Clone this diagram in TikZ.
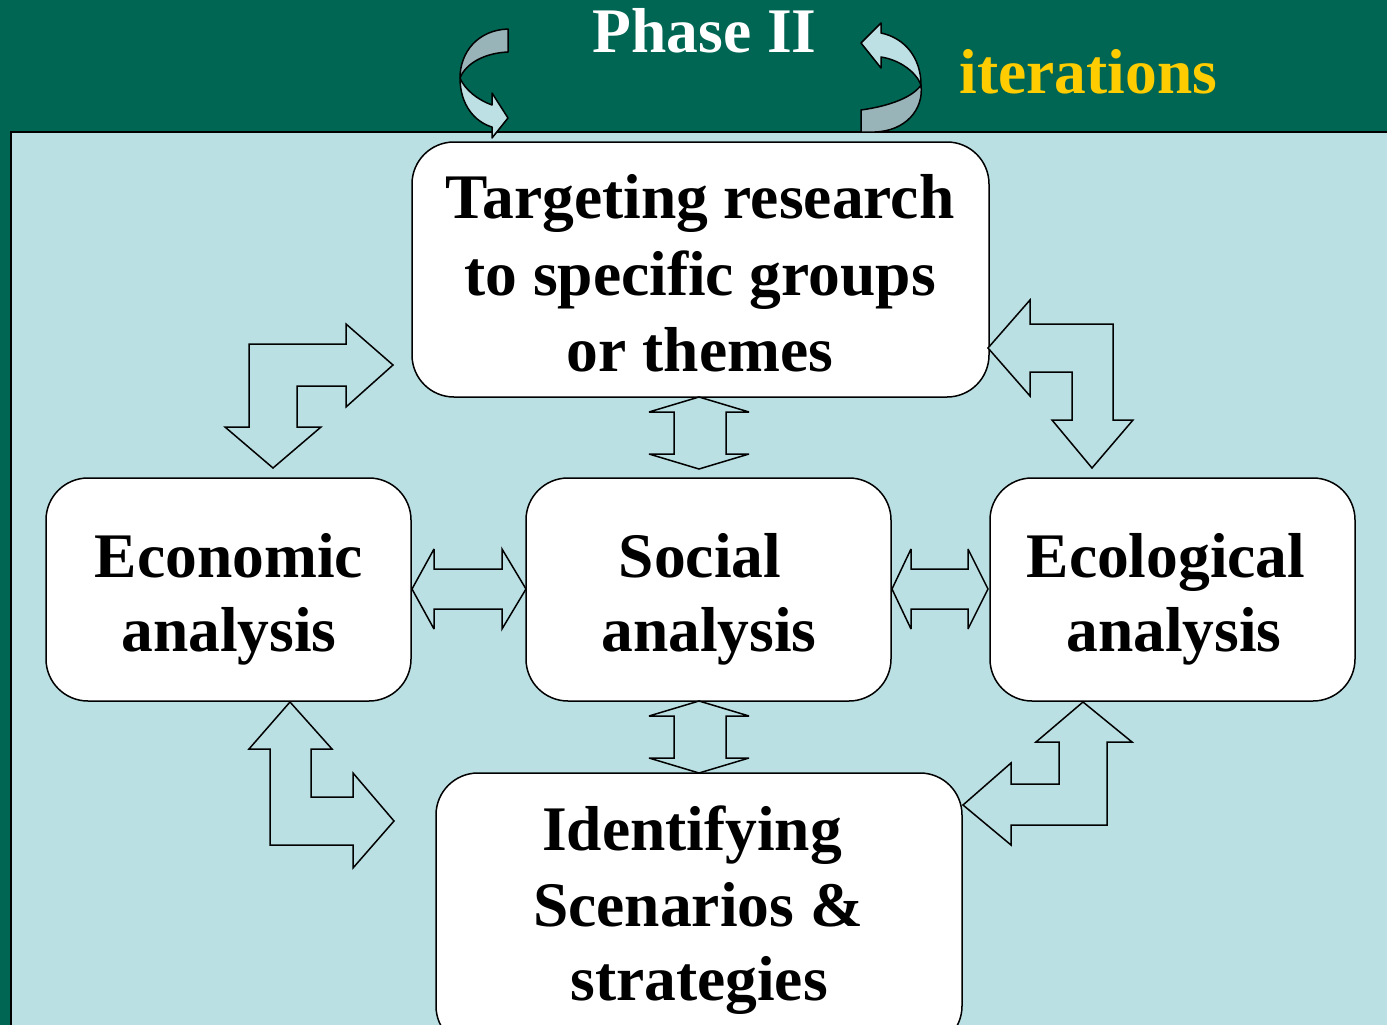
\documentclass[tikz,border=0pt]{standalone}
\usepackage{fontspec}
\setmainfont{Liberation Serif}
\definecolor{bandgreen}{RGB}{0,102,84}
\definecolor{panelblue}{RGB}{187,224,227}
\definecolor{titleyellow}{RGB}{255,204,0}
\definecolor{curvedark}{RGB}{152,180,184}
\definecolor{curvelight}{RGB}{188,224,227}
\begin{document}
\begin{tikzpicture}[x=1pt,y=-1pt,
  box/.style={draw=black, line width=1.5pt, fill=white, rounded corners=42pt, inner sep=0pt},
  txt/.style={font=\fontsize{63.5}{77}\selectfont\bfseries, inner sep=0pt, anchor=base},
  blockarrow/.style={draw=black, line width=1.5pt, fill=panelblue, line join=miter, miter limit=4},
  curvearrow/.style={draw=black, line width=1.5pt, line join=round}]
\useasboundingbox (0,0) rectangle (1387,1025);
\clip (0,0) rectangle (1387,1025);
% background
\fill[bandgreen] (0,0) rectangle (1387,1025);
\draw[line width=2pt, fill=panelblue] (11,132) rectangle (1400,1045);
% header texts
\node[txt, text=white] (phase) at (704.5,53) {Phase II};
\node[txt, text=titleyellow] (iter) at (1088.5,93) {iterations};
% boxes
\node[box, minimum width=577pt, minimum height=255pt] (target) at (700.5,269.5) {};
\node[box, minimum width=365pt, minimum height=223pt] (econ) at (228.5,589.5) {};
\node[box, minimum width=365pt, minimum height=223pt] (social) at (708.5,589.5) {};
\node[box, minimum width=365pt, minimum height=223pt] (eco) at (1172.5,589.5) {};
\node[box, minimum width=526pt, minimum height=275pt] (ident) at (699,910.5) {};
% box texts
\node[txt] (t1) at (700,218) {Targeting research};
\node[txt] (t2) at (700,295) {to specific groups};
\node[txt] (t3) at (700,371) {or themes};
\node[txt] (e1) at (229,577) {Economic};
\node[txt] (e2) at (229,651) {analysis};
\node[txt] (s1) at (700,577) {Social};
\node[txt] (s2) at (709,651) {analysis};
\node[txt] (g1) at (1166,577) {Ecological};
\node[txt] (g2) at (1174,651) {analysis};
\node[txt] (i1) at (692,850) {Identifying};
\node[txt] (i2) at (698,926) {Scenarios \&};
\node[txt] (i3) at (699,1000) {strategies};
% block arrows
% economic <-> targeting
\draw[blockarrow] (249,344) -- (346,344) -- (346,324) -- (393,365) -- (346,407) -- (346,386)
  -- (297,386) -- (297,427) -- (321,427) -- (273,468) -- (225,427) -- (249,427) -- cycle;
% targeting <-> ecological
\draw[blockarrow] (988,348) -- (1030,300) -- (1030,324) -- (1113,324) -- (1113,420) -- (1133,420)
  -- (1092,468) -- (1052,420) -- (1072,420) -- (1072,372) -- (1030,372) -- (1030,396) -- cycle;
% economic <-> identifying
\draw[blockarrow] (290,702) -- (332,749) -- (311,749) -- (311,797) -- (353,797) -- (353,773)
  -- (394,821) -- (353,868) -- (353,845) -- (270,845) -- (270,749) -- (249,749) -- cycle;
% ecological <-> identifying
\draw[blockarrow] (1083,702) -- (1132,742) -- (1107,742) -- (1107,825) -- (1011,825) -- (1011,845)
  -- (963,805) -- (1011,763) -- (1011,784) -- (1059,784) -- (1059,742) -- (1036,742) -- cycle;
% targeting <-> social
\draw[blockarrow] (699,397) -- (749,412) -- (726,412) -- (726,454) -- (749,454) -- (699,469)
  -- (649,454) -- (674,454) -- (674,412) -- (649,412) -- cycle;
% social <-> identifying
\draw[blockarrow] (699,701) -- (749,716) -- (726,716) -- (726,758) -- (749,758) -- (699,773)
  -- (649,758) -- (674,758) -- (674,716) -- (649,716) -- cycle;
% economic <-> social
\draw[blockarrow] (412,589) -- (434,549) -- (434,569) -- (502,569) -- (502,549) -- (526,589)
  -- (502,629) -- (502,609) -- (434,609) -- (434,629) -- cycle;
% social <-> ecological
\draw[blockarrow] (892,589) -- (911,549) -- (911,569) -- (968,569) -- (968,549) -- (988,589)
  -- (968,629) -- (968,609) -- (911,609) -- (911,629) -- cycle;
% curved arrows (iterations)
\draw[curvearrow, fill=curvedark] (508,29) .. controls (478,30) and (460,52) .. (460,78)
  .. controls (466,63) and (485,53) .. (508,52) -- cycle;
\draw[curvearrow, fill=curvelight] (460,78) .. controls (460,105) and (475,122) .. (492,127)
  -- (492,138) -- (508,118) -- (492,93) -- (492,105)
  .. controls (478,100) and (465,90) .. (460,78) -- cycle;
\draw[curvearrow, fill=curvelight] (861,43) -- (881,23) -- (881,33)
  .. controls (905,38) and (921,58) .. (921,85)
  .. controls (916,72) and (900,60) .. (881,57) -- (881,68) -- cycle;
\draw[curvearrow, fill=curvedark] (861,110) .. controls (890,106) and (913,97) .. (921,85)
  .. controls (924,110) and (905,131) .. (875,132) -- (861,132) -- cycle;
\end{tikzpicture}
\end{document}
